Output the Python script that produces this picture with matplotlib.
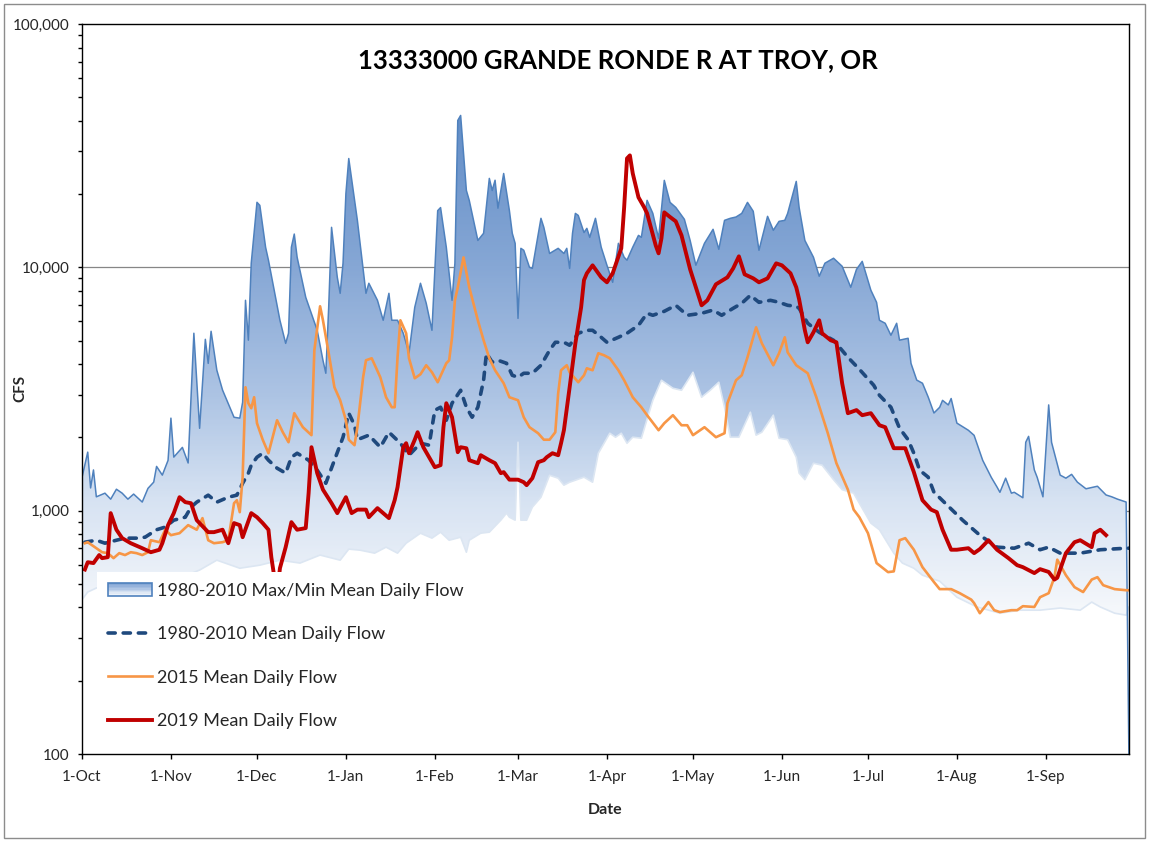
import matplotlib
matplotlib.use("Agg")
import matplotlib.pyplot as plt
from matplotlib.colors import LinearSegmentedColormap
from matplotlib.legend_handler import HandlerBase
from matplotlib.lines import Line2D
from matplotlib.patches import Patch, Rectangle
from matplotlib.ticker import FixedLocator, FuncFormatter, LogLocator, NullFormatter
import numpy as np

plt.rcParams['font.family'] = ['Lato', 'DejaVu Sans']

TITLE = "13333000 GRANDE RONDE R AT TROY, OR"

# day 0 = 1-Oct, Feb 29 is kept in the water year so 1-Mar = day 152
month_days = [0, 31, 61, 92, 123, 152, 183, 213, 244, 274, 305, 336]
month_labels = ["1-Oct", "1-Nov", "1-Dec", "1-Jan", "1-Feb", "1-Mar",
                "1-Apr", "1-May", "1-Jun", "1-Jul", "1-Aug", "1-Sep"]

# (day, cfs)
max_pts = [(0, 1370), (2, 1740), (3, 1240), (4, 1470), (5, 1140), (8, 1180), (10, 1115), (12, 1225),
           (14, 1180), (16, 1115), (18, 1170), (21, 1085), (23, 1235), (25, 1310), (26, 1520), (28, 1400),
           (30, 1610), (31, 2400), (32, 1660), (35, 1820), (37, 1570), (39, 5360), (41, 2180), (43, 5060),
           (44, 4030), (45, 5460), (47, 3780), (49, 3130), (53, 2420), (55, 2400), (56, 2790), (57, 7320),
           (58, 5020), (59, 10400), (61, 18500), (62, 17970), (64, 12100), (65, 10700), (69, 6060), (71, 4870),
           (72, 5360), (73, 12100), (74, 13700), (75, 11000), (78, 7530), (82, 5510), (84, 4150), (85, 3670),
           (86, 6850), (87, 14600), (89, 9100), (90, 7820), (91, 10400), (92, 20100), (93, 28000), (96, 15600),
           (99, 7820), (100, 8600), (103, 7320), (105, 6060), (107, 7820), (108, 6060), (110, 6060), (112, 5360),
           (114, 4440), (116, 6850), (118, 8600), (120, 7120), (122, 5510), (124, 17100), (125, 17600),
           (127, 12100), (129, 7320), (130, 10400), (131, 40150), (132, 42090), (134, 20700), (135, 18850),
           (138, 12900), (140, 13800), (142, 23200), (143, 20700), (144, 22800), (145, 17500), (147, 24300),
           (149, 17100), (150, 13800), (151, 12550), (152, 6170), (153, 11970), (154, 11750), (156, 10000),
           (157, 9900), (160, 15900), (161, 14600), (163, 11400), (166, 11970), (168, 11400), (169, 11970),
           (170, 9900), (171, 13800), (172, 16660), (173, 16340), (175, 13900), (176, 14460), (177, 13280),
           (179, 15900), (181, 12100), (183, 10200), (185, 8680), (187, 12550), (189, 11000), (190, 10700),
           (192, 12100), (194, 13530), (195, 13280), (197, 18850), (199, 16660), (201, 13150), (203, 22770),
           (205, 18490), (207, 17630), (210, 15750), (212, 12900), (214, 10200), (217, 12550), (220, 14330),
           (222, 11860), (224, 15600), (226, 15900), (228, 16100), (230, 16660), (232, 18490), (234, 17000),
           (236, 11750), (239, 16200), (241, 14200), (243, 15450), (245, 15600), (246, 16660), (249, 22550),
           (250, 17630), (252, 12900), (255, 11000), (257, 9190), (259, 10400), (262, 10900), (265, 10100),
           (268, 8280), (270, 9810), (272, 10580), (275, 8060), (277, 7180), (278, 6060), (280, 5890),
           (282, 5260), (284, 5890), (285, 5020), (288, 5110), (289, 4030), (291, 3440), (293, 3340),
           (295, 2930), (297, 2520), (299, 2660), (300, 2840), (302, 2720), (303, 2890), (305, 2290),
           (309, 2140), (311, 2040), (314, 1610), (317, 1370), (319, 1250), (320, 1190), (322, 1360),
           (324, 1180), (325, 1190), (328, 1130), (329, 1910), (330, 2020), (332, 1470), (333, 1370),
           (335, 1140), (337, 2720), (338, 1910), (341, 1400), (343, 1360), (345, 1410), (347, 1310),
           (350, 1230), (354, 1260), (357, 1160), (359, 1140), (361, 1115), (364, 1085), (365, 90)]

min_pts = [(0, 431), (2, 463), (5, 481), (10, 494), (17, 504), (24, 518), (34, 528), (41, 570), (47, 626),
           (55, 580), (62, 597), (69, 626), (76, 609), (83, 657), (90, 626), (93, 695), (97, 688), (102, 669),
           (106, 708), (110, 669), (113, 735), (118, 808), (122, 771), (125, 816), (128, 756), (132, 778),
           (134, 675), (135, 756), (139, 808), (142, 816), (146, 914), (148, 977), (149, 940), (151, 914),
           (152, 1911), (153, 914), (155, 914), (157, 1034), (160, 1136), (163, 1398), (166, 1360), (168, 1273),
           (170, 1309), (175, 1373), (178, 1309), (180, 1722), (182, 1893), (184, 2081), (186, 2004),
           (188, 2081), (190, 1893), (192, 2004), (195, 1985), (199, 2843), (202, 3435), (206, 3185),
           (209, 3125), (213, 3705), (216, 2925), (219, 3125), (222, 3371), (224, 2661), (226, 2004),
           (229, 2004), (233, 2539), (235, 2043), (237, 2101), (241, 2468), (243, 1985), (246, 1957),
           (249, 1658), (250, 1426), (252, 1341), (255, 1567), (258, 1538), (262, 1341), (265, 1220),
           (269, 1180), (271, 1073), (275, 889), (278, 835), (283, 669), (286, 609), (290, 580), (293, 543),
           (299, 513), (305, 441), (312, 402), (320, 379), (327, 390), (334, 390), (341, 398), (348, 390),
           (352, 421), (355, 402), (360, 379), (364, 372), (365, 402)]

mean_pts = [(1, 742), (5, 756), (8, 735), (12, 756), (15, 771), (19, 771), (22, 778), (26, 835), (29, 856),
            (32, 914), (36, 940), (38, 1034), (40, 1084), (44, 1158), (47, 1084), (51, 1136), (54, 1158),
            (56, 1296), (58, 1426), (59, 1538), (61, 1658), (63, 1722), (65, 1612), (68, 1495), (71, 1426),
            (73, 1658), (75, 1722), (79, 1612), (82, 1467), (85, 1296), (88, 1612), (91, 2004), (93, 2515),
            (95, 2244), (96, 1957), (100, 2043), (104, 1823), (107, 2101), (111, 1893), (114, 1690),
            (118, 1893), (121, 1858), (123, 2586), (125, 2661), (127, 2353), (129, 2764), (132, 3125),
            (134, 2661), (136, 2421), (138, 2661), (140, 3435), (141, 4436), (143, 4073), (145, 4150),
            (148, 4034), (150, 3601), (152, 3533), (154, 3670), (157, 3670), (160, 3959), (163, 4561),
            (165, 4920), (168, 4920), (170, 4783), (173, 5358), (176, 5512), (178, 5512), (181, 5158),
            (183, 4920), (187, 5158), (190, 5358), (194, 5777), (197, 6473), (199, 6352), (203, 6597),
            (207, 6982), (211, 6352), (216, 6473), (220, 6676), (223, 6352), (227, 6786), (230, 7115),
            (233, 7674), (236, 7182), (240, 7318), (243, 7182), (246, 6982), (249, 6917), (250, 6786),
            (253, 5890), (257, 5408), (262, 5015), (267, 4270), (271, 3811), (276, 3277), (278, 2980),
            (282, 2661), (285, 2182), (288, 1957), (290, 1722), (292, 1467), (295, 1373), (297, 1191),
            (302, 1043), (307, 914), (313, 793), (319, 708), (325, 701), (330, 735), (334, 691), (337, 708),
            (341, 669), (348, 669), (355, 691), (364, 701), (365, 701)]

y2015_pts = [(1, 735), (2, 742), (5, 701), (7, 675), (9, 669), (11, 638), (13, 669), (15, 657), (17, 675),
             (19, 669), (21, 657), (23, 675), (24, 756), (27, 742), (29, 835), (31, 793), (34, 808), (37, 872),
             (40, 835), (42, 932), (44, 756), (46, 735), (49, 742), (51, 756), (53, 1073), (54, 1104), (55, 986),
             (56, 1373), (57, 3215), (58, 2764), (59, 2636), (60, 2925), (61, 2288), (63, 1957), (65, 1722),
             (68, 2353), (70, 2101), (72, 1911), (74, 2515), (77, 2203), (80, 2043), (81, 4561), (83, 6917),
             (84, 6058), (86, 4436), (88, 3215), (90, 2843), (92, 2353), (93, 1957), (95, 1858), (96, 2203),
             (98, 3533), (99, 4150), (101, 4229), (104, 3533), (106, 2925), (108, 2661), (109, 2661),
             (110, 4270), (111, 6058), (113, 5358), (114, 4229), (116, 3500), (118, 3636), (120, 3959),
             (122, 3705), (124, 3371), (127, 4034), (128, 4150), (129, 5158), (130, 7318), (131, 8276),
             (133, 10990), (135, 8276), (138, 6058), (140, 5015), (142, 4229), (144, 3776), (147, 3339),
             (149, 2925), (152, 2843), (154, 2421), (156, 2203), (159, 2081), (161, 1957), (163, 1957),
             (165, 2101), (166, 3037), (167, 3776), (169, 3959), (170, 3705), (173, 3371), (175, 3601),
             (176, 3847), (178, 3776), (180, 4436), (182, 4351), (184, 4229), (187, 3776), (189, 3435),
             (192, 2925), (195, 2661), (197, 2468), (201, 2141), (203, 2288), (206, 2468), (209, 2244),
             (211, 2244), (213, 2043), (217, 2203), (221, 2004), (224, 2081), (225, 2764), (228, 3435),
             (230, 3601), (232, 4270), (235, 5669), (237, 4874), (241, 3959), (243, 4436), (245, 5158),
             (246, 4475), (249, 3959), (253, 3670), (256, 2925), (260, 2081), (263, 1567), (267, 1220),
             (269, 1010), (271, 940), (274, 808), (277, 609), (281, 559), (283, 563), (285, 756), (287, 771),
             (290, 691), (293, 586), (297, 509), (299, 476), (303, 476), (306, 458), (310, 431), (311, 417),
             (313, 379), (316, 421), (318, 390), (320, 383), (324, 390), (326, 390), (328, 405), (332, 402),
             (334, 441), (337, 458), (339, 533), (340, 629), (343, 543), (346, 485), (349, 463), (352, 521),
             (354, 533), (356, 494), (360, 476), (364, 471), (365, 471)]

y2019_pts = [(1, 573), (2, 614), (4, 609), (6, 657), (7, 638), (9, 644), (10, 977), (12, 835), (14, 771),
             (17, 735), (21, 701), (24, 675), (27, 691), (28, 735), (30, 872), (32, 977), (34, 1136),
             (36, 1084), (38, 1073), (40, 914), (44, 816), (46, 816), (49, 835), (51, 735), (53, 889),
             (55, 872), (56, 778), (59, 977), (61, 940), (63, 889), (65, 835), (66, 644), (68, 450), (69, 580),
             (71, 708), (73, 897), (75, 835), (78, 848), (79, 1180), (80, 1823), (82, 1426), (84, 1220),
             (87, 1073), (89, 977), (92, 1136), (94, 977), (96, 1010), (99, 1010), (100, 940), (103, 1024),
             (105, 977), (107, 932), (109, 1104), (110, 1249), (112, 1823), (113, 1893), (114, 1722),
             (116, 1957), (117, 2101), (119, 1823), (121, 1658), (123, 1509), (125, 1538), (126, 2203),
             (127, 2764), (129, 2421), (131, 1739), (132, 1823), (134, 1805), (135, 1612), (138, 1567),
             (139, 1690), (142, 1612), (144, 1567), (146, 1426), (147, 1440), (149, 1341), (152, 1341),
             (154, 1309), (155, 1273), (157, 1360), (159, 1582), (161, 1612), (162, 1658), (164, 1722),
             (166, 1690), (167, 1893), (168, 2141), (170, 3215), (172, 4874), (174, 6850), (175, 8862),
             (176, 9450), (178, 10190), (181, 9097), (183, 8680), (185, 9450), (188, 11970), (189, 17630),
             (190, 28030), (191, 28840), (192, 24320), (194, 19390), (196, 17630), (197, 16660), (200, 12310),
             (201, 11418), (202, 13150), (203, 16820), (205, 16100), (207, 15450), (209, 13530), (212, 9811),
             (216, 6982), (218, 7318), (221, 8516), (225, 9097), (227, 9900), (229, 11095), (231, 9360),
             (234, 9010), (236, 8680), (239, 9010), (242, 10385), (244, 10190), (247, 9450), (249, 8276),
             (250, 7390), (252, 5512), (253, 4920), (255, 5408), (257, 6058), (258, 5358), (261, 5015),
             (263, 4920), (265, 3339), (267, 2515), (270, 2590), (272, 2468), (275, 2515), (278, 2244),
             (280, 2203), (283, 1806), (287, 1806), (290, 1440), (293, 1104), (296, 1010), (298, 986),
             (300, 835), (303, 691), (305, 691), (309, 701), (311, 669), (313, 695), (316, 756), (319, 691),
             (323, 638), (326, 597), (328, 586), (332, 554), (334, 575), (337, 560), (339, 521), (340, 530),
             (343, 669), (346, 742), (348, 756), (352, 708), (353, 808), (355, 835), (357, 793)]

labels = ["1980-2010 Max/Min Mean Daily Flow", "1980-2010 Mean Daily Flow",
          "2015 Mean Daily Flow", "2019 Mean Daily Flow"]

max_color = '#4f81bd'
min_color = '#dce6f2'
mean_color = '#1f497d'
c2015 = '#f79646'
c2019 = '#c00000'
text_color = '#262626'

band_cmap = LinearSegmentedColormap.from_list('band', [
    (0.0, '#ffffff'), (0.2, '#f4f7fb'), (0.35, '#d6e2f2'), (0.49, '#adc4e4'),
    (0.67, '#86a7d5'), (0.86, '#6690c8'), (1.0, '#5584c2')])


class BandHandler(HandlerBase):
    def create_artists(self, legend, orig_handle, xdescent, ydescent, width, height, fontsize, trans):
        x0, y0 = -xdescent, -ydescent
        n = 10
        out = []
        for i in range(n):
            c = band_cmap(0.15 + 0.6 * (i + 0.5) / n)
            out.append(Rectangle((x0, y0 + height * i / n), width, height / n,
                                 facecolor=c, edgecolor='none', transform=trans))
        out.append(Rectangle((x0, y0), width, height, facecolor='none',
                             edgecolor=max_color, lw=1.2, transform=trans))
        return out


def main():
    W, H = 1149, 842
    fig = plt.figure(figsize=(W / 100, H / 100), dpi=100)
    ax = fig.add_axes([82 / W, 1 - 754 / H, 1047 / W, 730 / H])
    ax.set_yscale('log')
    ax.set_xlim(0, 365)
    ax.set_ylim(100, 100000)
    ax.set_autoscale_on(False)

    max_days, max_cfs = zip(*max_pts)
    min_days, min_cfs = zip(*min_pts)
    mean_days, mean_cfs = zip(*mean_pts)
    d15, q15 = zip(*y2015_pts)
    d19, q19 = zip(*y2019_pts)

    # gridlines (only visible where the band doesn't cover them)
    for v in [1000, 10000]:
        ax.axhline(v, color='#868686', lw=0.9, zorder=0.5)

    # gradient area under the max series
    area = ax.fill(list(max_days) + [365, 0], list(max_cfs) + [100, 100],
                   facecolor='none', edgecolor='none', zorder=1)[0]
    grad = np.linspace(0, 1, 400).reshape(-1, 1)
    im = ax.imshow(grad, cmap=band_cmap, vmin=0, vmax=1, origin='lower', aspect='auto',
                   extent=(0, 1, 0, 1), transform=ax.transAxes, zorder=1, interpolation='bilinear')
    im.set_clip_path(area)
    ax.set_xlim(0, 365)
    ax.set_ylim(100, 100000)

    # white area under the min series
    ax.fill(list(min_days) + [365, 0], list(min_cfs) + [100, 100],
            facecolor='white', edgecolor='none', zorder=1.5)
    ax.plot(min_days, min_cfs, color=min_color, lw=1.2, zorder=2)
    ax.plot(max_days, max_cfs, color=max_color, lw=1.1, zorder=2.1)

    ax.plot(mean_days, mean_cfs, color=mean_color, lw=2.6, dashes=(2.0, 2.2),
            dash_capstyle='round', zorder=3)
    ax.plot(d15, q15, color=c2015, lw=1.9, zorder=4)
    ax.plot(d19, q19, color=c2019, lw=2.8, zorder=5)

    # axes styling
    for s in ax.spines.values():
        s.set_color('black')
        s.set_linewidth(1.0)
        s.set_zorder(6)
    ax.yaxis.set_major_locator(FixedLocator([100, 1000, 10000, 100000]))
    ax.yaxis.set_major_formatter(FuncFormatter(lambda v, p: f"{v:,.0f}"))
    ax.yaxis.set_minor_locator(LogLocator(base=10, subs=np.arange(2, 10)))
    ax.yaxis.set_minor_formatter(NullFormatter())
    ax.xaxis.set_major_locator(FixedLocator(month_days))
    ax.set_xticklabels(month_labels)
    ax.tick_params(axis='y', which='both', direction='out', length=3, width=1.0,
                   pad=6, labelsize=11, labelcolor=text_color)
    ax.tick_params(axis='x', which='major', direction='out', length=3.5, width=1.0,
                   pad=8, labelsize=11, labelcolor=text_color)

    fig.text(618 / W, 1 - 60 / H, TITLE, ha='center', va='center', fontsize=18.5,
             fontweight='bold', color='black')
    fig.text(20 / W, 1 - 389 / H, "CFS", ha='center', va='center', rotation=90,
             fontsize=11, fontweight='bold', color=text_color)
    fig.text(605 / W, 1 - 810 / H, "Date", ha='center', va='center',
             fontsize=11.5, fontweight='bold', color=text_color)

    handles = [Patch(),
               Line2D([], [], color=mean_color, lw=2.6, dashes=(2.0, 2.2), dash_capstyle='round'),
               Line2D([], [], color=c2015, lw=1.9),
               Line2D([], [], color=c2019, lw=2.8)]
    leg = ax.legend(handles, labels, handler_map={Patch: BandHandler()},
                    loc='lower left', bbox_to_anchor=(15 / 1047, 14 / 730), borderaxespad=0,
                    frameon=True, fancybox=False, facecolor='white', edgecolor='none',
                    framealpha=1, fontsize=13, handlelength=2.45, handleheight=0.8,
                    handletextpad=0.3, labelspacing=1.51, borderpad=0.6)
    for t in leg.get_texts():
        t.set_color(text_color)
    leg.set_zorder(10)

    # outer chart border
    fig.patches.append(Rectangle((4 / W, 4 / H), 1 - 8 / W, 1 - 8 / H, transform=fig.transFigure,
                                 fill=False, edgecolor='#8c8c8c', lw=1.0))

    fig.savefig('out.png', dpi=100)


if __name__ == '__main__':
    main()
